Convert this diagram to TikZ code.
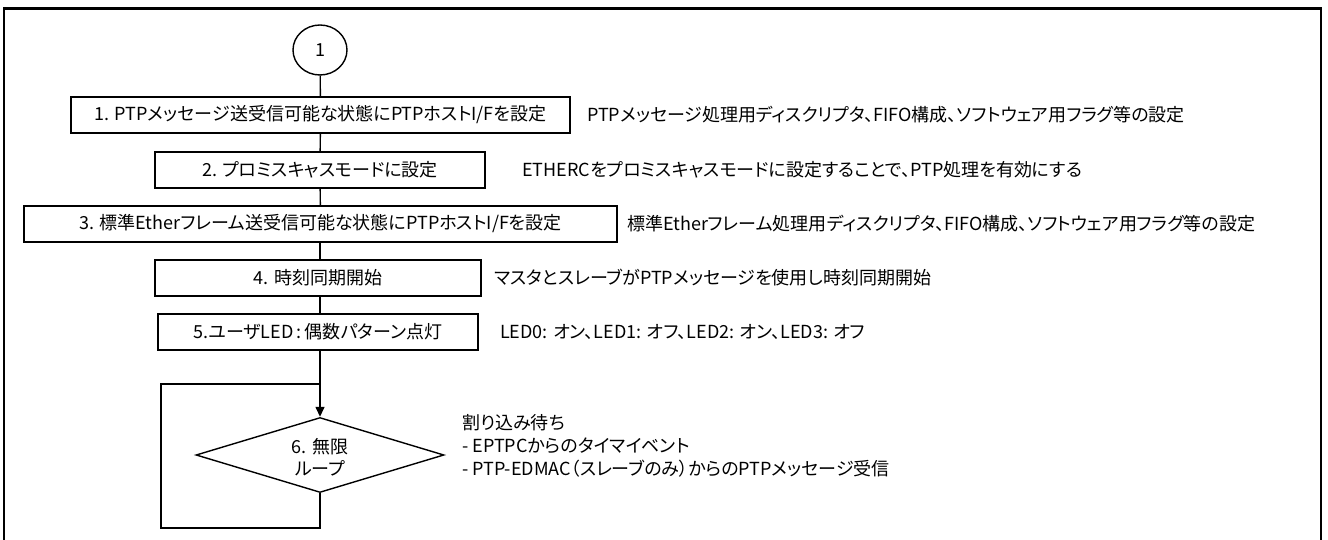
\documentclass[tikz,border=0pt]{standalone}
\usepackage{fontspec}
\setmainfont{Noto Sans CJK JP}[RawFeature=+palt]
\usetikzlibrary{shapes.geometric,arrows.meta}
\begin{document}
\begin{tikzpicture}[x=1pt,y=-1pt,
  every node/.style={font=\fontsize{18}{22}\selectfont},
  stepbox/.style={draw, line width=1.4pt, rectangle, minimum height=36pt, inner sep=0pt},
  note/.style={anchor=west, inner sep=0pt},
  conn/.style={line width=1.4pt},
  arr/.style={line width=1.4pt, -{Triangle[length=10pt,width=9pt]}},
  startnode/.style={draw, line width=1.4pt, ellipse, minimum width=54pt, minimum height=50pt, inner sep=0pt},
  dia/.style={draw, line width=1.4pt, diamond, minimum width=248pt, minimum height=75pt, inner sep=0pt},
  frameline/.style={line width=2pt}
]
\useasboundingbox (0,0) rectangle (1328,540);
% frame (open at the bottom)
\draw[frameline] (4,540) -- (4,9) -- (1321,9) -- (1321,540);
\draw[line width=3pt] (3,9) -- (1322,9);

% nodes
\node[startnode] (c) at (320,50) {1};
\node[stepbox, minimum width=499pt] (b1) at (320.5,115) {1. PTPメッセージ送受信可能な状態にPTPホストI/Fを設定};
\node[stepbox, minimum width=330pt] (b2) at (320,170) {2. プロミスキャスモードに設定};
\node[stepbox, minimum width=593pt] (b3) at (320.5,224) {3. 標準Etherフレーム送受信可能な状態にPTPホストI/Fを設定};
\node[stepbox, minimum width=326pt] (b4) at (318,278) {4. 時刻同期開始};
\node[stepbox, minimum width=320pt] (b5) at (318,332) {5.ユーザLED\,:\,偶数パターン点灯};
\node[dia] (d) at (320,455) {};
\node[align=center, inner sep=0pt] (dt) at (320,457) {6. 無限\\ループ};

% notes
\node[note] (n1) at (587,115) {PTPメッセージ処理用ディスクリプタ、FIFO構成、ソフトウェア用フラグ等の設定};
\node[note] (n2) at (522,170) {ETHERCをプロミスキャスモードに設定することで、PTP処理を有効にする};
\node[note] (n3) at (627,224) {標準Etherフレーム処理用ディスクリプタ、FIFO構成、ソフトウェア用フラグ等の設定};
\node[note] (n4) at (494,278) {マスタとスレーブがPTPメッセージを使用し時刻同期開始};
\node[note] (n5) at (500,332) {LED0: オン、LED1: オフ、LED2: オン、LED3: オフ};
\node[note, align=left, font=\fontsize{18}{23}\selectfont] (n6) at (462,446) {割り込み待ち\\- EPTPCからのタイマイベント\\- PTP-EDMAC（スレーブのみ）からのPTPメッセージ受信};

% connectors
\coordinate (j) at (320,384);
\coordinate (lb) at (320,528);
\coordinate (lc) at (161,528);
\coordinate (lt) at (161,384);
\draw[conn] (c) -- (b1);
\draw[conn] (b1) -- (b2);
\draw[conn] (b2) -- (b3);
\draw[conn] (b3.south -| c) -- (b4.north -| c);
\draw[conn] (b4.south -| c) -- (b5.north -| c);
\draw[arr] (b5.south -| c) -- (d);
\draw[conn] (d.south) -- (lb) -- (lc) -- (lt) -- (j);
\end{tikzpicture}
\end{document}
